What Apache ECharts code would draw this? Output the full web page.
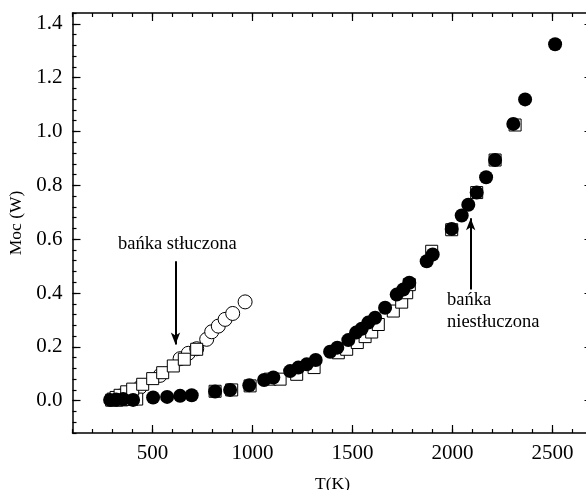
<!DOCTYPE html>
<html>
<head>
<meta charset="utf-8">
<script src="https://cdn.jsdelivr.net/npm/echarts@6/dist/echarts.min.js"></script>
<style>html,body{margin:0;padding:0;background:#fff}#c{width:586px;height:490px}</style>
</head>
<body>
<div id="c"></div>
<script>
// Filled circles: bańka niestłuczona
const filledCircles = [
  [288,0.003],[318,0.004],[353,0.006],[403,0.003],[503,0.012],[573,0.014],[638,0.018],[696,0.020],
  [813,0.034],[888,0.040],[984,0.057],[1058,0.077],[1104,0.086],[1188,0.110],[1229,0.123],[1271,0.135],
  [1316,0.151],[1388,0.182],[1424,0.197],[1479,0.225],[1518,0.253],[1546,0.267],[1579,0.290],[1613,0.308],
  [1663,0.345],[1721,0.394],[1754,0.413],[1784,0.438],[1871,0.518],[1901,0.543],[1996,0.638],[2046,0.688],
  [2079,0.728],[2121,0.773],[2168,0.830],[2213,0.894],[2304,1.028],[2363,1.119],[2513,1.324]
];
// Open squares
const openSquares = [
  [296,0.002],[321,0.002],[346,0.003],[371,0.005],[396,0.005],[421,0.006],
  [304,0.006],[318,0.012],[338,0.020],[371,0.033],[401,0.043],[451,0.061],[501,0.082],[551,0.104],
  [604,0.129],[659,0.154],[721,0.191],
  [813,0.035],[896,0.040],[988,0.055],[1088,0.080],[1138,0.080],[1221,0.098],[1308,0.123],[1429,0.178],
  [1471,0.191],[1524,0.216],[1563,0.238],[1596,0.255],[1629,0.283],[1704,0.333],[1746,0.366],[1771,0.401],
  [1784,0.431],[1896,0.555],[1996,0.635],[2121,0.773],[2213,0.894],[2313,1.024]
];
// Open circles: bańka stłuczona
const openCircles = [
  [338,0.017],[438,0.050],[538,0.094],[638,0.156],[679,0.176],[721,0.193],[771,0.228],[796,0.256],
  [829,0.277],[863,0.302],[901,0.324],[963,0.367]
];
const xMajorTicks = [500,1000,1500,2000,2500];
const yMajorTicks = [0,0.2,0.4,0.6,0.8,1.0,1.2,1.4];
const arrowStluczona = [[615,0.518],[615,0.209]];
const arrowNiestluczona = [[2091,0.413],[2091,0.678]];
const labelStluczona = 'bańka stłuczona';
const labelNiestluczona = ['bańka','niestłuczona'];
const xName = 'T(K)', yName = 'Moc (W)';

const FONT = 'Liberation Serif';
const X0 = 100, X1 = 2700, Y0 = -0.12, Y1 = 1.44;
const black = '#000';
function minorAxis(pos, isX, showLine){
  return {
    type:'value', position:pos, min: isX?X0:Y0, max: isX?X1:Y1, interval: isX?100:0.04,
    axisLine:{show:showLine, onZero:false, lineStyle:{color:black,width:1.5}},
    axisTick:{show:true, inside:true, length:4, lineStyle:{color:black,width:1.2}},
    axisLabel:{show:false}, splitLine:{show:false}
  };
}
function majorAxis(pos, isX, labels){
  const vals = isX?xMajorTicks:yMajorTicks;
  const a = {
    type:'value', position:pos, min: isX?X0:Y0, max: isX?X1:Y1,
    axisLine:{show:false, onZero:false},
    axisTick:{show:true, inside:true, length:8, customValues:vals, lineStyle:{color:black,width:1.2}},
    axisLabel:{show:labels, customValues:vals, fontFamily:FONT, fontSize:21, color:black, margin:10,
      formatter: v => isX ? String(Math.round(v)) : v.toFixed(1)},
    splitLine:{show:false}
  };
  if (labels) {
    a.name = isX?xName:yName;
    a.nameLocation='middle';
    a.nameGap = isX?42:47;
    a.nameTextStyle={fontFamily:FONT, fontSize: 17.5, color:black};
  }
  return a;
}
const chart = echarts.init(document.getElementById('c'), null, {renderer:'canvas'});
chart.setOption({
  animation:false,
  backgroundColor:'#fff',
  grid:{left:72.5, top:13, width:520, height:420, containLabel:false, outerBoundsMode:'none'},
  xAxis:[minorAxis('bottom',true,true), majorAxis('bottom',true,true), minorAxis('top',true,true), majorAxis('top',true,false)],
  yAxis:[minorAxis('left',false,true), majorAxis('left',false,true), minorAxis('right',false,true), majorAxis('right',false,false)],
  series:[
    {type:'scatter', data:openCircles, symbol:'circle', symbolSize:14, z:2,
     itemStyle:{color:'#fff', borderColor:black, borderWidth:1, opacity:1}},
    {type:'scatter', data:openSquares, symbol:'rect', symbolSize:12, z:3,
     itemStyle:{color:'#fff', borderColor:black, borderWidth:1, opacity:1}},
    {type:'scatter', data:filledCircles, symbol:'circle', symbolSize:14, z:4,
     itemStyle:{color:black, opacity:1},
     markLine:{silent:true, symbol:['none','arrow'], symbolSize:[7,12],
       lineStyle:{color:black, width:2, type:'solid', opacity:1}, label:{show:false},
       data:[
         [{coord:arrowStluczona[0]},{coord:arrowStluczona[1]}],
         [{coord:arrowNiestluczona[0]},{coord:arrowNiestluczona[1]}]
       ]}}
  ],
  graphic:[
    {type:'text', left:118, top:235, style:{text:labelStluczona, font:'18.5px "Liberation Serif"', fill:black}},
    {type:'text', left:447, top:291, style:{text:labelNiestluczona[0], font:'18.5px "Liberation Serif"', fill:black}},
    {type:'text', left:447, top:313, style:{text:labelNiestluczona[1], font:'18.5px "Liberation Serif"', fill:black}}
  ]
});
</script>
</body>
</html>
